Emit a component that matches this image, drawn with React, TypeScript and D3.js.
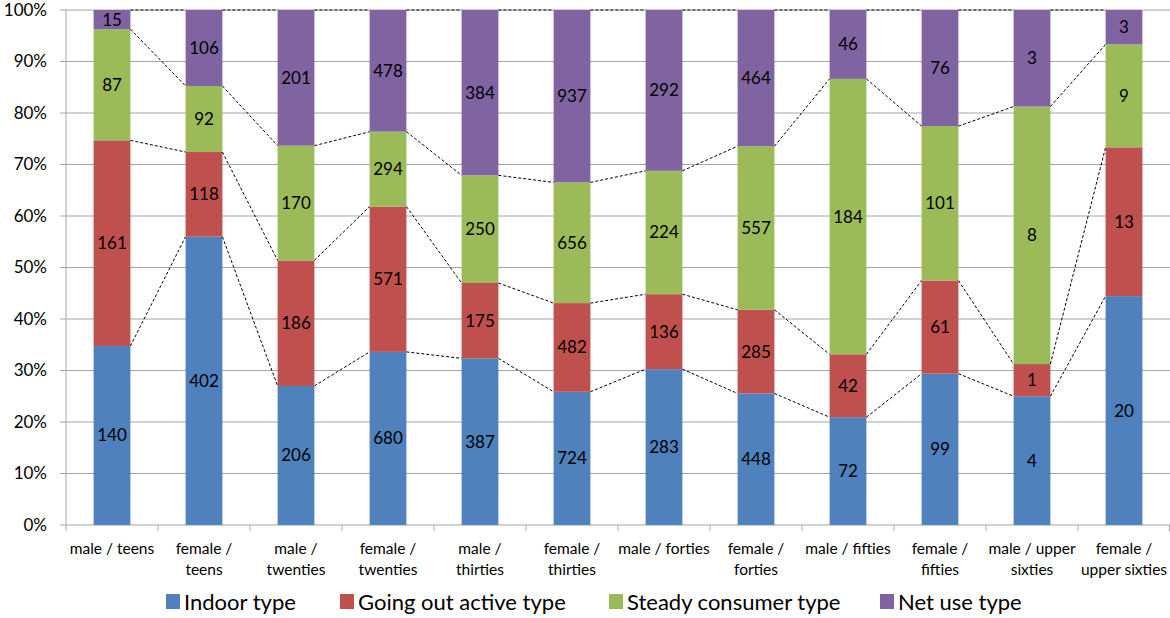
import React from "react";
import * as d3 from "d3";

const categories = [
  ["male / teens"],
  ["female /", "teens"],
  ["male /", "twenties"],
  ["female /", "twenties"],
  ["male /", "thirties"],
  ["female /", "thirties"],
  ["male / forties"],
  ["female /", "forties"],
  ["male / fifties"],
  ["female /", "fifties"],
  ["male / upper", "sixties"],
  ["female /", "upper sixties"],
];

const seriesNames = ["Indoor type", "Going out active type", "Steady consumer type", "Net use type"];
const seriesColors = ["#4F81BD", "#C0504D", "#9BBB59", "#8064A2"];

const indoor = [140, 402, 206, 680, 387, 724, 283, 448, 72, 99, 4, 20];
const goingOut = [161, 118, 186, 571, 175, 482, 136, 285, 42, 61, 1, 13];
const steady = [87, 92, 170, 294, 250, 656, 224, 557, 184, 101, 8, 9];
const netUse = [15, 106, 201, 478, 384, 937, 292, 464, 46, 76, 3, 3];

const yTicks = [0, 0.1, 0.2, 0.3, 0.4, 0.5, 0.6, 0.7, 0.8, 0.9, 1.0];

const W = 1170;
const H = 618;
const left = 66;
const right = 1170;
const top = 10;
const bottom = 525;
const font = "Lato, 'Open Sans', sans-serif";
const gridColor = "#A6A6A6";

export default function App() {
  const series = [indoor, goingOut, steady, netUse];
  const idx = categories.map((_, i) => i);
  const x = d3.scaleBand<number>().domain(idx).range([left, right]).paddingInner(0.6).paddingOuter(0.3);
  const xc = d3.scaleBand<number>().domain(idx).range([left, right]);
  const y = d3.scaleLinear().domain([0, 1]).range([bottom, top]);

  const rows = idx.map((i) => {
    const total = d3.sum(series, (s) => s[i]);
    let acc = 0;
    return series.map((s) => {
      const y0 = acc / total;
      acc += s[i];
      return { y0, y1: acc / total, v: s[i] };
    });
  });

  const bw = x.bandwidth();

  return (
    <svg width={W} height={H} style={{ position: "absolute", left: 0, top: 0, background: "#fff" }}>
      {/* gridlines */}
      {yTicks.map((t) => (
        <line key={t} x1={left - 6} x2={right} y1={y(t)} y2={y(t)} stroke={gridColor} strokeWidth={1} />
      ))}
      <line x1={left} x2={left} y1={top} y2={bottom} stroke={gridColor} />
      {d3.range(categories.length + 1).map((k) => {
        const xx = k < categories.length ? xc(k)! : right - 0.5;
        return <line key={k} x1={xx} x2={xx} y1={bottom} y2={bottom + 6} stroke={gridColor} />;
      })}
      {yTicks.map((t) => (
        <text key={t} x={47} y={y(t)} dy="0.35em" textAnchor="end" fontFamily={font} fontSize={17} fill="#000">
          {Math.round(t * 100)}%
        </text>
      ))}

      {/* stacked bars */}
      {rows.map((r, i) =>
        r.map((seg, j) => (
          <rect
            key={`${i}-${j}`}
            x={x(i)}
            y={y(seg.y1)}
            width={bw}
            height={y(seg.y0) - y(seg.y1)}
            fill={seriesColors[j]}
          />
        ))
      )}

      {/* connector lines between neighbouring bars */}
      {rows.slice(0, -1).map((r, i) =>
        r.map((seg, j) => (
          <line
            key={`c${i}-${j}`}
            x1={x(i)! + bw}
            x2={x(i + 1)!}
            y1={y(seg.y1)}
            y2={y(rows[i + 1][j].y1)}
            stroke="#000"
            strokeWidth={1}
            strokeDasharray="3,2"
          />
        ))
      )}

      {/* value labels */}
      {rows.map((r, i) =>
        r.map((seg, j) => (
          <text
            key={`l${i}-${j}`}
            x={x(i)! + bw / 2}
            y={y((seg.y0 + seg.y1) / 2)}
            dy="0.35em"
            textAnchor="middle"
            fontFamily={font}
            fontSize={17}
            fill="#000"
          >
            {seg.v}
          </text>
        ))
      )}

      {/* category labels */}
      {categories.map((lines, i) => (
        <text key={`cat${i}`} textAnchor="middle" fontFamily={font} fontSize={15.5} fill="#000">
          {lines.map((ln, k) => (
            <tspan key={k} x={xc(i)! + xc.bandwidth() / 2} y={553.5 + k * 21.5}>
              {ln}
            </tspan>
          ))}
        </text>
      ))}

      {/* legend */}
      {[166, 340, 609, 880].map((lx, j) => (
        <g key={`lg${j}`}>
          <rect x={lx} y={594} width={14} height={15} fill={seriesColors[j]} />
          <text x={lx + 18} y={602} dy="0.35em" fontFamily={font} fontSize={22} fill="#000">
            {seriesNames[j]}
          </text>
        </g>
      ))}
    </svg>
  );
}
